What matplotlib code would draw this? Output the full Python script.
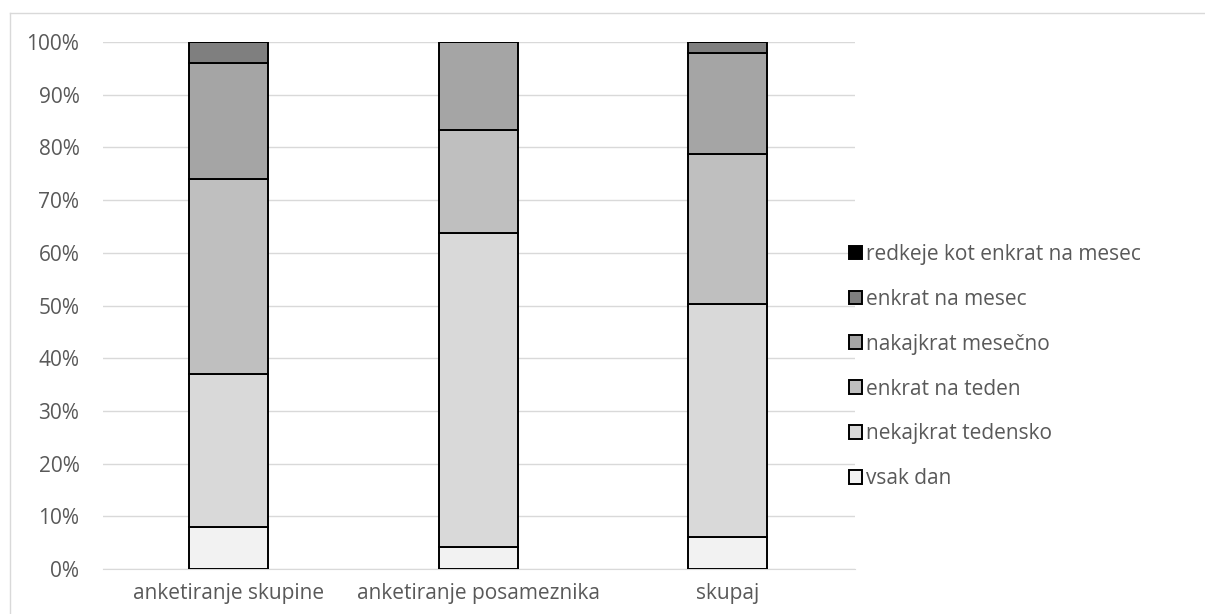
import matplotlib
matplotlib.use("Agg")
import matplotlib.pyplot as plt
from matplotlib.lines import Line2D
import numpy as np

categories = ["anketiranje skupine", "anketiranje posameznika", "skupaj"]
series_names = ["vsak dan", "nekajkrat tedensko", "enkrat na teden",
                "nakajkrat mesečno", "enkrat na mesec", "redkeje kot enkrat na mesec"]
vsak_dan = [8.0, 4.2, 6.0]
nekajkrat_tedensko = [29.0, 59.6, 44.2]
enkrat_na_teden = [37.0, 19.5, 28.5]
nakajkrat_mesecno = [22.0, 16.7, 19.3]
enkrat_na_mesec = [4.0, 0.0, 2.0]
redkeje = [0.0, 0.0, 0.0]
colors = ["#F2F2F2", "#D9D9D9", "#BFBFBF", "#A5A5A5", "#7F7F7F", "#000000"]
yticks = [0, 10, 20, 30, 40, 50, 60, 70, 80, 90, 100]

plt.rcParams['font.family'] = ['Open Sans', 'DejaVu Sans']

W, H = 1205, 614
fig = plt.figure(figsize=(W/100, H/100), dpi=100)
ax = fig.add_axes([103/W, (H-569)/H, 752/W, (569-42)/H])

data = [vsak_dan, nekajkrat_tedensko, enkrat_na_teden, nakajkrat_mesecno, enkrat_na_mesec, redkeje]
x = np.arange(len(categories))
bottom = np.zeros(len(categories))
handles = []
for name, vals, c in zip(series_names, data, colors):
    vals = np.array(vals)
    b = ax.bar(x, vals, bottom=bottom, width=0.317, color=c, edgecolor="black",
               linewidth=1.4, label=name, zorder=3)
    handles.append(b)
    bottom += vals

ax.set_xlim(-0.505, 2.51)
ax.set_ylim(0, 100)
ax.set_yticks(yticks)
ax.set_yticklabels([f"{t}%" for t in yticks])
ax.set_xticks(x)
ax.set_xticklabels(categories)
ax.grid(axis="y", color="#D9D9D9", linewidth=1, zorder=0)
for s in ["top", "right", "left"]:
    ax.spines[s].set_visible(False)
ax.spines["bottom"].set_color("#D9D9D9")
ax.tick_params(axis="both", length=0, colors="#595959", labelsize=15)
ax.tick_params(axis="y", pad=17)
ax.tick_params(axis="x", pad=10)

leg = fig.legend(handles[::-1], series_names[::-1], loc="center left",
                 bbox_to_anchor=(0.689, 0.403), frameon=False, fontsize=15,
                 labelspacing=1.15, handlelength=0.62, handleheight=0.62,
                 handletextpad=0.2, labelcolor="#595959")

fig.add_artist(Line2D([9.5/W, 1.0], [1 - 12.5/H, 1 - 12.5/H], transform=fig.transFigure,
                      color="#D9D9D9", linewidth=1))
fig.add_artist(Line2D([9.5/W, 9.5/W], [0.0, 1 - 12.5/H], transform=fig.transFigure,
                      color="#D9D9D9", linewidth=1))

fig.savefig("out.png", dpi=100)
